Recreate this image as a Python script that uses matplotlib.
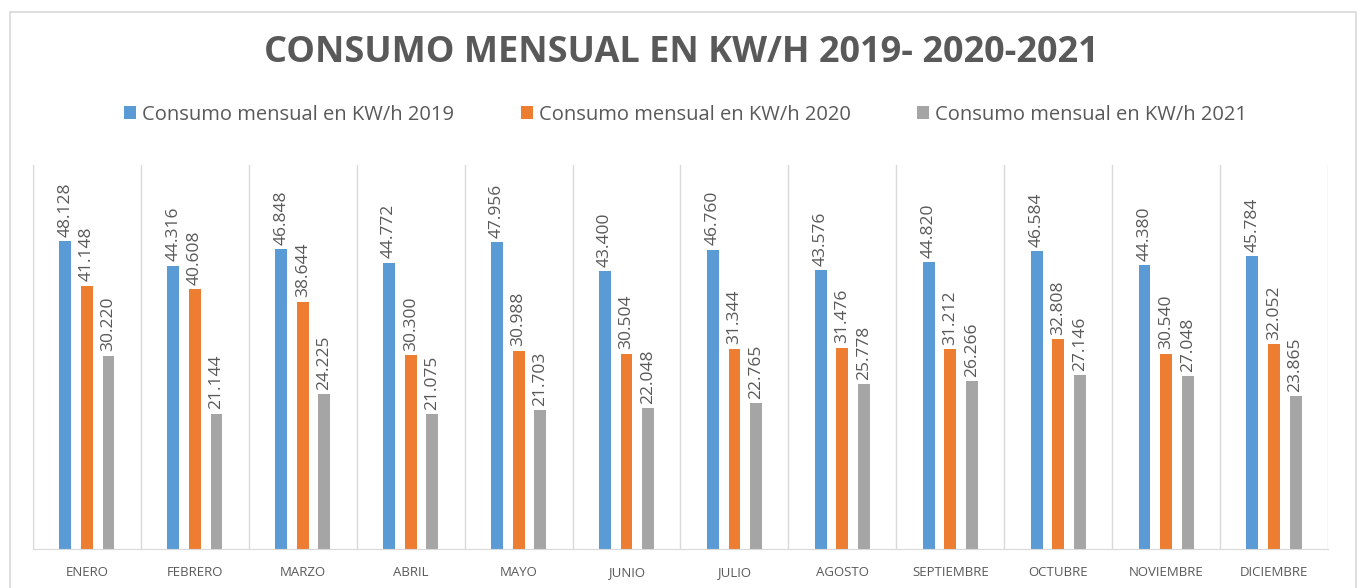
import matplotlib.pyplot as plt
from matplotlib.patches import Rectangle

meses = ["ENERO", "FEBRERO", "MARZO", "ABRIL", "MAYO", "JUNIO", "JULIO",
         "AGOSTO", "SEPTIEMBRE", "OCTUBRE", "NOVIEMBRE", "DICIEMBRE"]
consumo_2019 = [48.128, 44.316, 46.848, 44.772, 47.956, 43.400, 46.760,
                43.576, 44.820, 46.584, 44.380, 45.784]
consumo_2020 = [41.148, 40.608, 38.644, 30.300, 30.988, 30.504, 31.344,
                31.476, 31.212, 32.808, 30.540, 32.052]
consumo_2021 = [30.220, 21.144, 24.225, 21.075, 21.703, 22.048, 22.765,
                25.778, 26.266, 27.146, 27.048, 23.865]
series = [("Consumo mensual en KW/h 2019", consumo_2019, "#5B9BD5"),
          ("Consumo mensual en KW/h 2020", consumo_2020, "#ED7D31"),
          ("Consumo mensual en KW/h 2021", consumo_2021, "#A5A5A5")]

plt.rcParams['font.family'] = ['Open Sans', 'DejaVu Sans']
texto = "#595959"

fig = plt.figure(figsize=(13.63, 5.88), dpi=100)
ax = fig.add_axes([0.0242, 0.0663, 0.9501, 0.6527])

# marco exterior del grafico
fig.patches.append(Rectangle((0.007, -0.1), 0.988, 1.08, transform=fig.transFigure,
                             fill=False, edgecolor="#d9d9d9", linewidth=1.2))

x = range(len(meses))
offsets = [-0.2, 0, 0.2]
for (nombre, valores, color), off in zip(series, offsets):
    pos = [i + off for i in x]
    ax.bar(pos, valores, width=0.11, color=color, label=nombre)
    for p, v in zip(pos, valores):
        ax.text(p, v + 0.7, f"{v:.3f}", rotation=90, ha="center", va="bottom",
                fontsize=12.5, color=texto)

ax.set_xlim(-0.5, len(meses) - 0.5)
ax.set_ylim(0, 60)
ax.set_yticks([])
ax.set_xticks(list(x))
ax.set_xticklabels(meses, fontsize=9.5, color=texto)
ax.tick_params(axis="x", length=0, pad=12)
for i in range(len(meses) + 1):
    ax.axvline(i - 0.5, color="#d9d9d9", linewidth=1, zorder=0)
for s in ["top", "right"]:
    ax.spines[s].set_visible(False)
ax.spines["left"].set_color("#d9d9d9")
ax.spines["bottom"].set_color("#d9d9d9")

fig.text(0.5, 0.91, "CONSUMO MENSUAL EN KW/H 2019- 2020-2021", ha="center",
         va="center", fontsize=26, fontweight="bold", color=texto)
fig.legend(loc="center", bbox_to_anchor=(0.503, 0.805), ncol=3, frameon=False,
           fontsize=14.5, labelcolor=texto, handlelength=0.6, handleheight=0.6,
           handletextpad=0.3, columnspacing=3.3)

fig.savefig("out.png", dpi=100)
